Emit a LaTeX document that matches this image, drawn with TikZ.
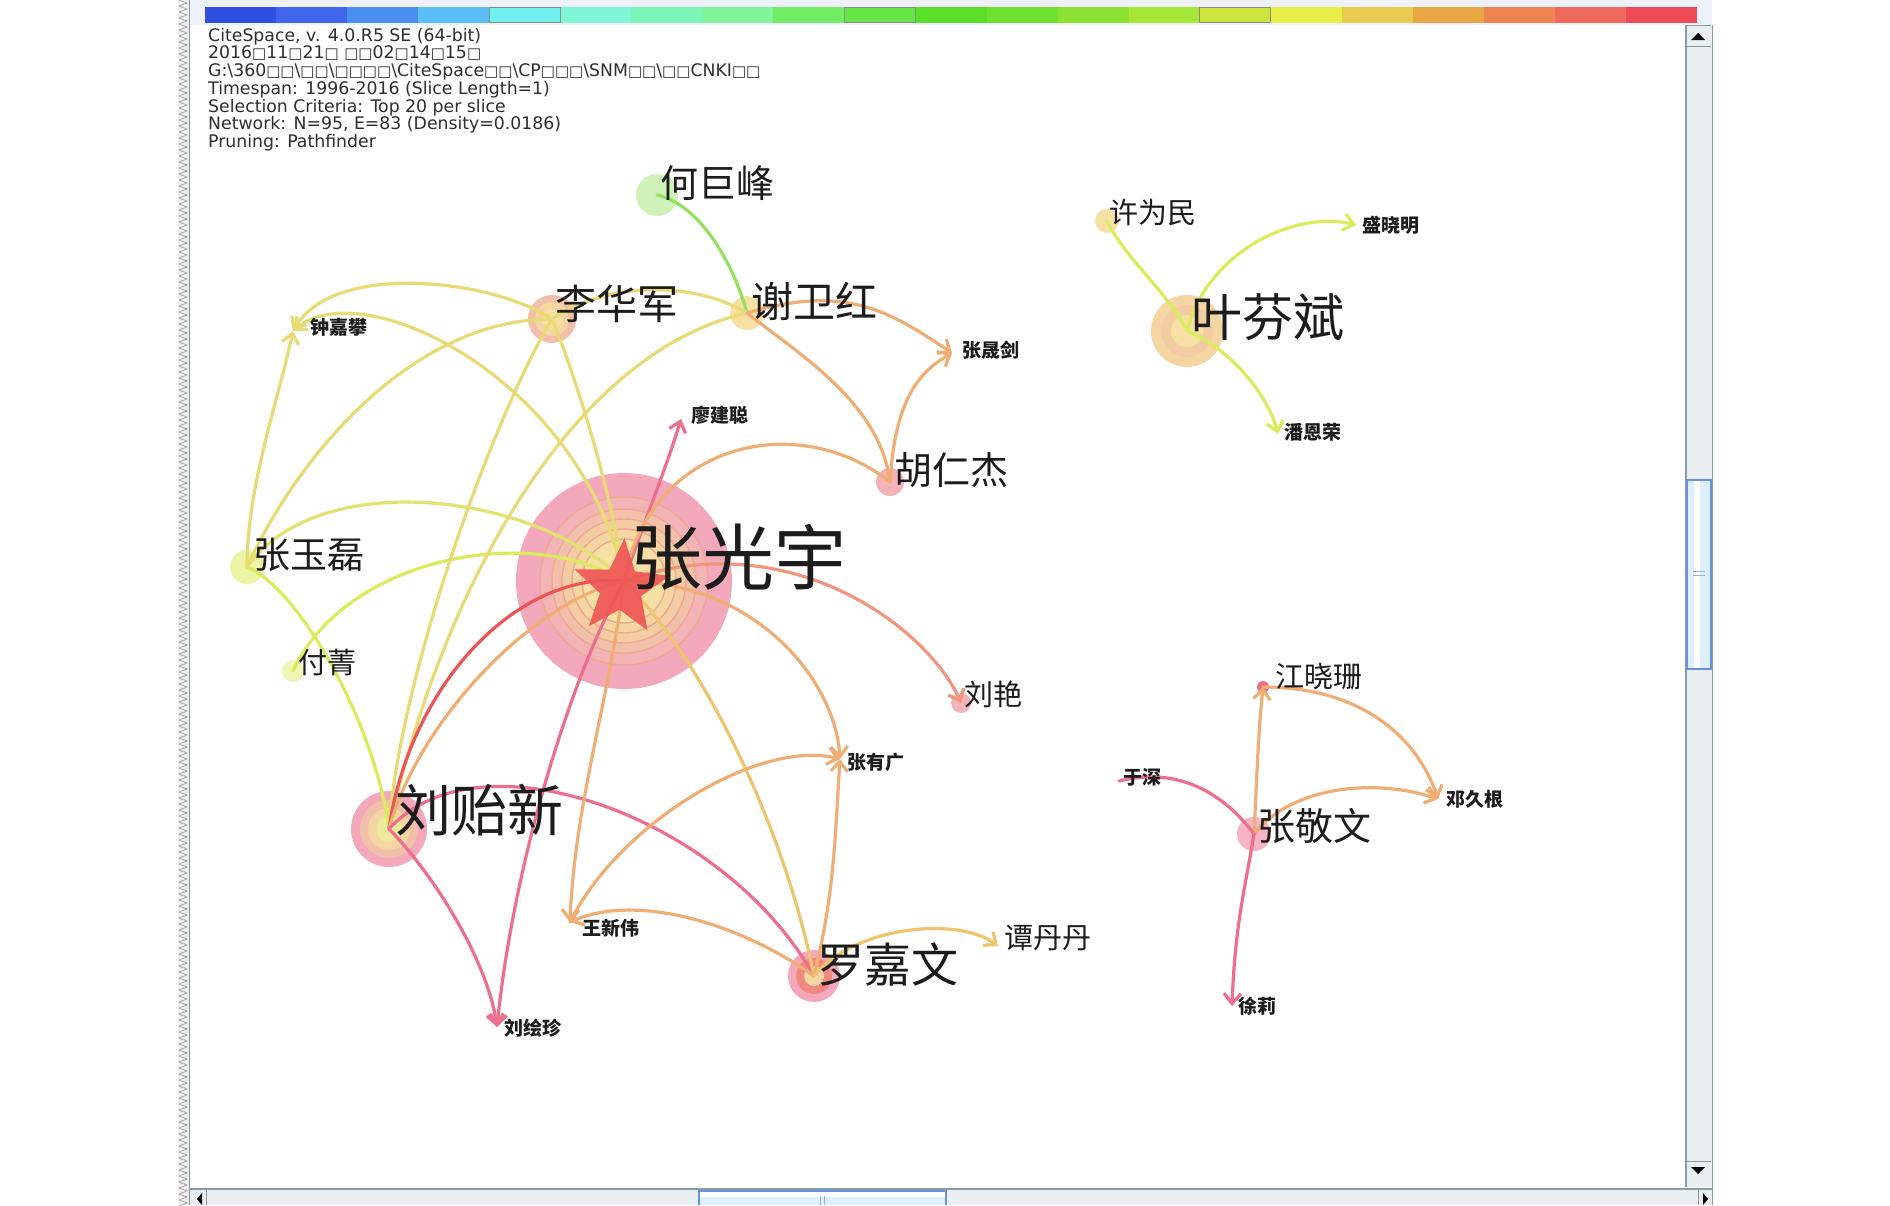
\documentclass[tikz,border=0pt]{standalone}
\usepackage{fontspec}
\setmainfont{Liberation Sans}
\newfontfamily\cjk{Noto Sans CJK SC}
\newfontfamily\djv{DejaVu Sans}
\usetikzlibrary{arrows.meta,shapes.geometric}
\newcommand\bx{{\djv\fontsize{15}{15}\selectfont\char"25A1}}
\definecolor{cY}{HTML}{E8DA74}
\definecolor{cY2}{HTML}{E2E270}
\definecolor{cYG}{HTML}{DAEC5C}
\definecolor{cG}{HTML}{96E060}
\definecolor{cO}{HTML}{F0AE74}
\definecolor{cS}{HTML}{F0967C}
\definecolor{cYO}{HTML}{EEC46C}
\definecolor{cP}{HTML}{EE6E8E}
\definecolor{cR}{HTML}{EE5454}
\definecolor{lbl}{HTML}{1C1C1C}
\definecolor{hdr}{HTML}{EEF2F8}
\definecolor{sbtrack}{HTML}{E9EFF1}
\definecolor{sbline}{HTML}{8A9AA2}
\definecolor{thumbfill}{HTML}{DCEFFA}
\definecolor{thumbline}{HTML}{6A92E0}
\definecolor{bar1}{HTML}{2F4FE0}
\definecolor{bar2}{HTML}{3F66EA}
\definecolor{bar3}{HTML}{4A8FF0}
\definecolor{bar4}{HTML}{5BBFF5}
\definecolor{bar5}{HTML}{6FF0EE}
\definecolor{bar6}{HTML}{7EF5D5}
\definecolor{bar7}{HTML}{7EF5B8}
\definecolor{bar8}{HTML}{80F59A}
\definecolor{bar9}{HTML}{72EE66}
\definecolor{bar10}{HTML}{66E645}
\definecolor{bar11}{HTML}{5BE02A}
\definecolor{bar12}{HTML}{70E030}
\definecolor{bar13}{HTML}{8CE032}
\definecolor{bar14}{HTML}{A6E636}
\definecolor{bar15}{HTML}{CCE63E}
\definecolor{bar16}{HTML}{E6EE46}
\definecolor{bar17}{HTML}{E8CC52}
\definecolor{bar18}{HTML}{E8A844}
\definecolor{bar19}{HTML}{F08450}
\definecolor{bar20}{HTML}{EE6A5A}
\definecolor{bar21}{HTML}{EE4A5A}
\definecolor{zr0}{HTML}{F3A8BB}
\definecolor{zr1}{HTML}{F2B4B6}
\definecolor{zr2}{HTML}{F2C0AA}
\definecolor{zr3}{HTML}{F4CCA4}
\definecolor{zr4}{HTML}{F5D6A2}
\definecolor{zr5}{HTML}{F6E0A4}
\definecolor{ljwin}{HTML}{F08A80}
\definecolor{ringline}{HTML}{EFA890}
\definecolor{starred}{HTML}{F05656}
\begin{document}
\begin{tikzpicture}[x=1pt,y=-1pt,
  hd/.style={anchor=base west,inner sep=0,text=black!82,font=\djv\fontsize{17.3}{17.3}\selectfont},
  lab/.style={anchor=west,inner sep=0,text=lbl,font=\cjk\fontsize{#1}{#1}\selectfont},
  slab/.style={anchor=west,inner sep=0,text=lbl,font=\cjk\bfseries\fontsize{19}{19}\selectfont},
  dot/.style={circle,inner sep=0,minimum size=#1},
  e/.style={line width=3.2pt,line cap=round},
  ar/.style={-{Straight Barb[length=10pt,width=17pt]}}]
\useasboundingbox (0,0) rectangle (1890,1205);
\fill[white] (0,0) rectangle (1890,1205);
% window top band and colour bar
\fill[hdr] (190,0) rectangle (1712,25);
\foreach \i in {1,...,21} \fill[bar\i] ({205+71.05*(\i-1)},7) rectangle ({205+71.05*\i},23);
\foreach \i in {5,10,15} \draw[black!45,line width=1.2pt] ({205+71.05*(\i-1)},7.5) rectangle ({205+71.05*\i},22.5);
% left frame strip
\fill[black!6] (178,0) rectangle (189,1205);
\foreach \y in {0,6,...,1200} \draw[black!35,line width=0.8pt] (179,\y) -- (187,\y+3) -- (179,\y+6);
\draw[sbline,line width=1.5pt] (189.5,0) -- (189.5,1205);
% header text
\node[hd] (h1) at (208,41.6) {CiteSpace, v. 4.0.R5 SE (64-bit)};
\node[hd] (h2) at (208,58.6) {2016\bx11\bx21\bx{} \bx\bx02\bx14\bx15\bx};
\node[hd] (h3) at (208,76.6) {G:\textbackslash360\bx\bx\textbackslash\bx\bx\textbackslash\bx\bx\bx\bx\textbackslash CiteSpace\bx\bx\textbackslash CP\bx\bx\bx\textbackslash SNM\bx\bx\textbackslash\bx\bx CNKI\bx\bx};
\node[hd] (h4) at (208,94.6) {Timespan: 1996-2016 (Slice Length=1)};
\node[hd] (h5) at (208,112.6) {Selection Criteria: Top 20 per slice};
\node[hd] (h6) at (208,129.8) {Network: N=95, E=83 (Density=0.0186)};
\node[hd] (h7) at (208,147.6) {Pruning: Pathfinder};
% circle nodes
\node[dot=216pt,fill=zr0] (zgy) at (624,581) {};
\foreach \r/\c in {84/zr1,72/zr2,62/zr3,52/zr4,42/zr5}
  \filldraw[fill=\c,draw=ringline,line width=1.4pt] (zgy.center) circle[radius=\r pt];
\node[dot=76pt,fill=zr0] (lyx) at (389,829) {};
\fill[zr2] (lyx.center) circle[radius=29pt];
\fill[zr4] (lyx.center) circle[radius=21pt];
\fill[cY2!70] (lyx.center) circle[radius=13pt];
\node[dot=52pt,fill=zr0] (ljw) at (814,976) {};
\fill[ljwin] (ljw.center) circle[radius=18pt];
\fill[zr4] (ljw.center) circle[radius=10pt];
\node[dot=48pt,fill=zr2] (lhj) at (552,319) {};
\fill[zr4] (lhj.center) circle[radius=17pt];
\fill[zr5] (lhj.center) circle[radius=10pt];
\node[dot=72pt,fill=zr4] (yfb) at (1187,331) {};
\fill[zr3] (yfb.center) circle[radius=26pt];
\fill[zr5] (yfb.center) circle[radius=16pt];
\node[dot=42pt,fill=cG!45] (hjf) at (657,195) {};
\node[dot=34pt,fill=zr5] (xwh) at (747,313) {};
\node[dot=28pt,fill=zr1] (hrj) at (890,482) {};
\node[dot=34pt,fill=cYG!55] (zyl) at (247,567) {};
\node[dot=22pt,fill=cYG!45] (fj) at (293,671) {};
\node[dot=24pt,fill=zr5] (xwm) at (1107,221) {};
\node[dot=20pt,fill=zr1] (ly) at (961,703) {};
\node[dot=34pt,fill=zr0!85] (zjw) at (1254,834) {};
\node[dot=12pt,fill=cP] (jxs) at (1263,687) {};
% point nodes
\coordinate (zjp) at (293,331);
\coordinate (zsj) at (952,353);
\coordinate (ljc) at (681,419);
\coordinate (zyg) at (840,759);
\coordinate (wxw) at (570,922);
\coordinate (tdd) at (998,946);
\coordinate (lhz) at (497,1027);
\coordinate (sxm) at (1356,225);
\coordinate (per) at (1278,434);
\coordinate (djg) at (1438,799);
\coordinate (ys) at (1119,781);
\coordinate (xl) at (1232,1006);
% edges
\draw[e,cG] (hjf.center) .. controls +(45,10) and +(-12,-45) .. (xwh.center);
\draw[e,cY] (lhj.center) .. controls +(60,-40) and +(-50,-30) .. (xwh.center);
\draw[e,cY,ar] (lhj.center) .. controls +(-60,-40) and +(40,-70) .. (zjp);
\draw[e,cY,ar] (zgy.center) .. controls +(-40,-200) and +(70,-60) .. (zjp);
\draw[e,cY] (lhj.center) .. controls +(-140,0) and +(50,-110) .. (zyl.center);
\draw[e,cY,ar] (zyl.center) .. controls +(0,-80) and +(-15,70) .. (zjp);
\draw[e,cY2] (zyl.center) .. controls +(70,-100) and +(-90,-90) .. (zgy.center);
\draw[e,cYG] (fj.center) .. controls +(50,-110) and +(-100,-60) .. (zgy.center);
\draw[e,cYG] (zyl.center) .. controls +(50,20) and +(-15,-110) .. (lyx.center);
\draw[e,cY] (lhj.center) .. controls +(-60,100) and +(10,-150) .. (lyx.center);
\draw[e,cY] (xwh.center) .. controls +(-180,40) and +(50,-230) .. (lyx.center);
\draw[e,cY] (lhj.center) .. controls +(25,60) and +(-10,-80) .. (zgy.center);
\draw[e,cR] (lyx.center) .. controls +(20,-140) and +(-110,-10) .. (zgy.center);
\draw[e,cO] (lyx.center) .. controls +(30,-110) and +(-90,20) .. (zgy.center);
\draw[e,cP] (lyx.center) .. controls +(90,-100) and +(-90,-160) .. (ljw.center);
\draw[e,cP,ar] (lyx.center) .. controls +(40,40) and +(-10,-70) .. (lhz);
\draw[e,cP,ar] (zgy.center) .. controls +(-60,110) and +(15,-150) .. (lhz);
\draw[e,cP,ar] (zgy.center) .. controls +(20,-60) and +(-15,50) .. (ljc);
\draw[e,cO,ar] (zgy.center) .. controls +(-15,120) and +(5,-120) .. (wxw);
\draw[e,cYO] (zgy.center) .. controls +(80,80) and +(-30,-150) .. (ljw.center);
\draw[e,cO,ar] (zgy.center) .. controls +(130,0) and +(-5,-80) .. (zyg);
\draw[e,cS,ar] (zgy.center) .. controls +(170,-60) and +(-30,-70) .. (ly.center);
\draw[e,cO] (zgy.center) .. controls +(26,-141) and +(-90,-72) .. (hrj.center);
\draw[e,cO] (hrj.center) .. controls +(-10,-80) and +(50,40) .. (xwh.center);
\draw[e,cO,ar] (hrj.center) .. controls +(5,-80) and +(-35,20) .. (zsj);
\draw[e,cO,ar] (xwh.center) .. controls +(100,-30) and +(-60,-40) .. (zsj);
\draw[e,cO,ar] (ljw.center) .. controls +(-70,-50) and +(70,-30) .. (wxw);
\draw[e,cO,ar] (ljw.center) .. controls +(20,-80) and +(-5,80) .. (zyg);
\draw[e,cO,ar] (wxw) .. controls +(50,-100) and +(-80,-20) .. (zyg);
\draw[e,cYO,ar] (ljw.center) .. controls +(40,-50) and +(-40,-30) .. (tdd);
\draw[e,cYG] (xwm.center) .. controls +(20,40) and +(-20,-40) .. (yfb.center);
\draw[e,cYG,ar] (yfb.center) .. controls +(20,-80) and +(-60,-15) .. (sxm);
\draw[e,cYG,ar] (yfb.center) .. controls +(40,15) and +(-10,-40) .. (per);
\draw[e,cO,ar] (zjw.center) .. controls +(3,-60) and +(-5,50) .. (jxs.center);
\draw[e,cO,ar] (jxs.center) .. controls +(100,0) and +(-20,-60) .. (djg);
\draw[e,cO,ar] (zjw.center) .. controls +(40,-50) and +(-60,-20) .. (djg);
\draw[e,cP] (ys) .. controls +(60,-15) and +(-30,-40) .. (zjw.center);
\draw[e,cP,ar] (zjw.center) .. controls +(-10,60) and +(3,-80) .. (xl);
% star
\node[star,star points=5,star point ratio=2.3,minimum size=100pt,inner sep=0,fill=starred,fill opacity=0.92,rotate=-4] (star) at (621,588) {};
% labels
\node[lab=72] (l-zgy) at (630,557) {张光宇};
\node[lab=56] (l-lyx) at (395,810) {刘贻新};
\node[lab=51] (l-yfb) at (1191,317) {叶芬斌};
\node[lab=47] (l-ljw) at (817,964) {罗嘉文};
\node[lab=41] (l-lhj) at (555,304) {李华军};
\node[lab=42] (l-xwh) at (751,301) {谢卫红};
\node[lab=38] (l-hjf) at (660,183) {何巨峰};
\node[lab=38] (l-hrj) at (894,470) {胡仁杰};
\node[lab=37] (l-zyl) at (253,555) {张玉磊};
\node[lab=38] (l-zjw) at (1257,826) {张敬文};
\node[lab=29] (l-ly) at (964,694) {刘艳};
\node[lab=29] (l-fj) at (298,662) {付菁};
\node[lab=29] (l-xwm) at (1109,213) {许为民};
\node[lab=29] (l-tdd) at (1004,938) {谭丹丹};
\node[lab=29] (l-jxs) at (1275,677) {江晓珊};
\node[slab] (l-zjp) at (310,327) {钟嘉攀};
\node[slab] (l-zsj) at (962,350) {张晟剑};
\node[slab] (l-ljc) at (691,415) {廖建聪};
\node[slab] (l-zyg) at (847,762) {张有广};
\node[slab] (l-wxw) at (582,928) {王新伟};
\node[slab] (l-lhz) at (504,1028) {刘绘珍};
\node[slab] (l-sxm) at (1362,225) {盛晓明};
\node[slab] (l-per) at (1284,432) {潘恩荣};
\node[slab] (l-djg) at (1446,799) {邓久根};
\node[slab] (l-ys) at (1123,777) {于深};
\node[slab] (l-xl) at (1238,1006) {徐莉};
% right scrollbar
\fill[sbtrack] (1685,25) rectangle (1712,1187);
\draw[sbline,line width=2pt] (1686,25) -- (1686,1187);
\draw[sbline,line width=1pt] (1712,25) -- (1712,1205);
\draw[sbline,line width=1pt] (1687,25) -- (1711,25);
\draw[sbline,line width=1pt] (1687,46) -- (1711,46);
\fill[black] (1691,40) -- (1698,33) -- (1705,40) -- cycle;
\fill[thumbfill] (1687,480) rectangle (1711,669);
\fill[white] (1694,481) rectangle (1700,668);
\draw[thumbline,line width=1.2pt] (1687,480) rectangle (1711,669);
\draw[thumbline!70,line width=1pt] (1693,571) -- (1705,571) (1693,575) -- (1705,575);
\draw[sbline,line width=1pt] (1687,1161) -- (1711,1161);
\fill[black] (1691,1167) -- (1705,1167) -- (1698,1174) -- cycle;
% bottom scrollbar
\fill[sbtrack] (190,1188) rectangle (1712,1205);
\draw[sbline,line width=2pt] (190,1189) -- (1712,1189);
\draw[sbline,line width=1pt] (206,1190) -- (206,1205) (1698,1190) -- (1698,1205);
\fill[black] (202,1193) -- (197,1199) -- (202,1205) -- cycle;
\fill[black] (1703,1193) -- (1708,1199) -- (1703,1205) -- cycle;
\fill[thumbfill] (699,1191) rectangle (946,1205);
\fill[white] (700,1192) rectangle (945,1197);
\draw[thumbline,line width=1.2pt] (699,1205) -- (699,1191) -- (946,1191) -- (946,1205);
\draw[thumbline!70,line width=1pt] (820,1196) -- (820,1205) (824,1196) -- (824,1205);
\end{tikzpicture}
\end{document}
